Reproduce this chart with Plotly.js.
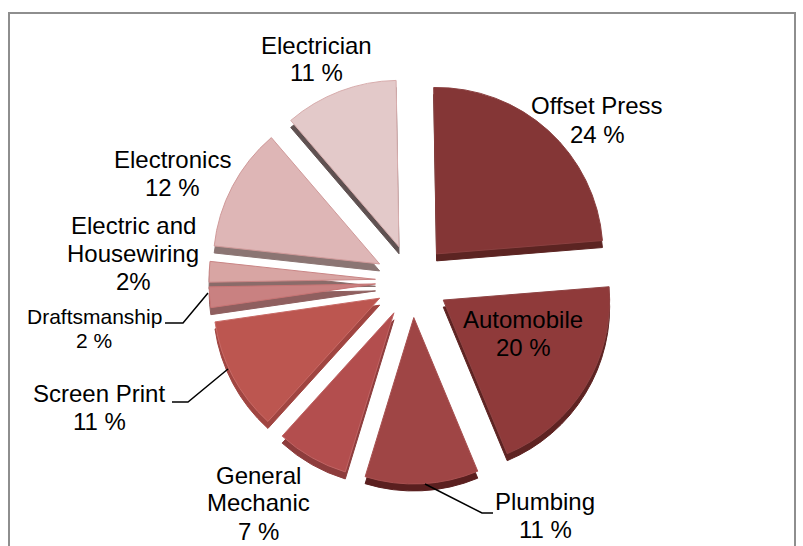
<!DOCTYPE html>
<html>
<head>
<meta charset="utf-8">
<script src="https://cdn.plot.ly/plotly-3.0.1.min.js"></script>
<style>html,body{margin:0;padding:0;background:#fff}#chart{width:803px;height:546px}</style>
</head>
<body>
<div id="chart"></div>
<script>
// Enrolment share by trade, clockwise from twelve o'clock
const trades = ['Offset Press','Automobile','Plumbing','General Mechanic','Screen Print','Draftsmanship','Electric and Housewiring','Electronics','Electrician'];
const shares = [24,20,11,7,11,2,2,12,11];
const faceColors = ['#843636','#8f3a3a','#9f4545','#b34e4e','#bc5650','#c98181','#d8a5a3','#deb6b6','#e3c9c9'];
const sideColors = ['#5c2422','#5e2322','#5a1f1f','#8d3c3c','#a04541','#8f5f5f','#8a6b69','#8b7573','#5f5151'];
const edgeColors = ['#8a4040','#8f4444','#a85050','#c06464','#c86a66','#c77474','#c98585','#d09a9a','#d8adad'];
const pullAmount = 0.22;

// Text lines as drawn around the pie: [text, centre x, centre y, size]
const labelLines = [
  ['Electrician',316,45,24],[shares[8]+' %',316,73,24],
  ['Offset Press',597,106,24],[shares[0]+' %',597,134,24],
  ['Electronics',172,159,24],[shares[7]+' %',172,187,24],
  ['Electric and',133,225,24],['Housewiring',133,253,24],[shares[6]+'%',133,281,24],
  ['Draftsmanship',94,316,21],[shares[5]+' %',94,340,21],
  ['Automobile',523,319,24],[shares[1]+' %',523,347,24],
  ['Screen Print',99,393,24],[shares[4]+' %',99,421,24],
  ['General',258,475,24],['Mechanic',258,503,24],[shares[3]+' %',258,531,24],
  ['Plumbing',545,501,24],[shares[2]+' %',545,529,24]
];
// Leader polylines from label to slice
const leaders = [
  [[165,323],[183,323],[208,293]],
  [[172,402],[188,402],[228,369]],
  [[425,484],[482,513],[493,513]]
];

const W = 803, H = 546;
const px = x => x / W, py = y => 1 - y / H;
const cx = 412, cy = 281, half = 203, depth = 7;

function pieTrace(colors, lines, offset) {
  return {
    type: 'pie', values: shares, labels: trades, sort: false, direction: 'clockwise',
    rotation: -1, pull: pullAmount, textinfo: 'none', hoverinfo: 'label+percent',
    showlegend: false,
    marker: {colors: colors, line: {color: lines, width: 1}},
    domain: {x: [px(cx - half), px(cx + half)], y: [py(cy + offset + half), py(cy + offset - half)]}
  };
}

const annotations = labelLines.map(([text, x, y, size]) => ({
  xref: 'paper', yref: 'paper', x: px(x), y: py(y), xanchor: 'center', yanchor: 'middle',
  text: text, showarrow: false, font: {family: 'Liberation Sans, Arial, sans-serif', size: size, color: '#000'}
}));

const shapes = leaders.map(pts => ({
  type: 'path', xref: 'paper', yref: 'paper',
  path: 'M' + pts.map(p => px(p[0]) + ',' + py(p[1])).join('L'),
  line: {color: '#000', width: 1.5}
}));
// Chart frame, running off the lower edge of the page
shapes.push({
  type: 'path', xref: 'paper', yref: 'paper',
  path: `M${px(9)},0L${px(9)},${py(13)}L${px(795)},${py(13)}L${px(795)},0`,
  line: {color: '#8e8e8e', width: 2}
});

Plotly.newPlot('chart',
  [pieTrace(sideColors, sideColors, depth), pieTrace(faceColors, edgeColors, 0)],
  {width: W, height: H, margin: {l: 0, r: 0, t: 0, b: 0}, paper_bgcolor: '#fff',
   showlegend: false, annotations: annotations, shapes: shapes},
  {displayModeBar: false, staticPlot: true});
</script>
</body>
</html>
